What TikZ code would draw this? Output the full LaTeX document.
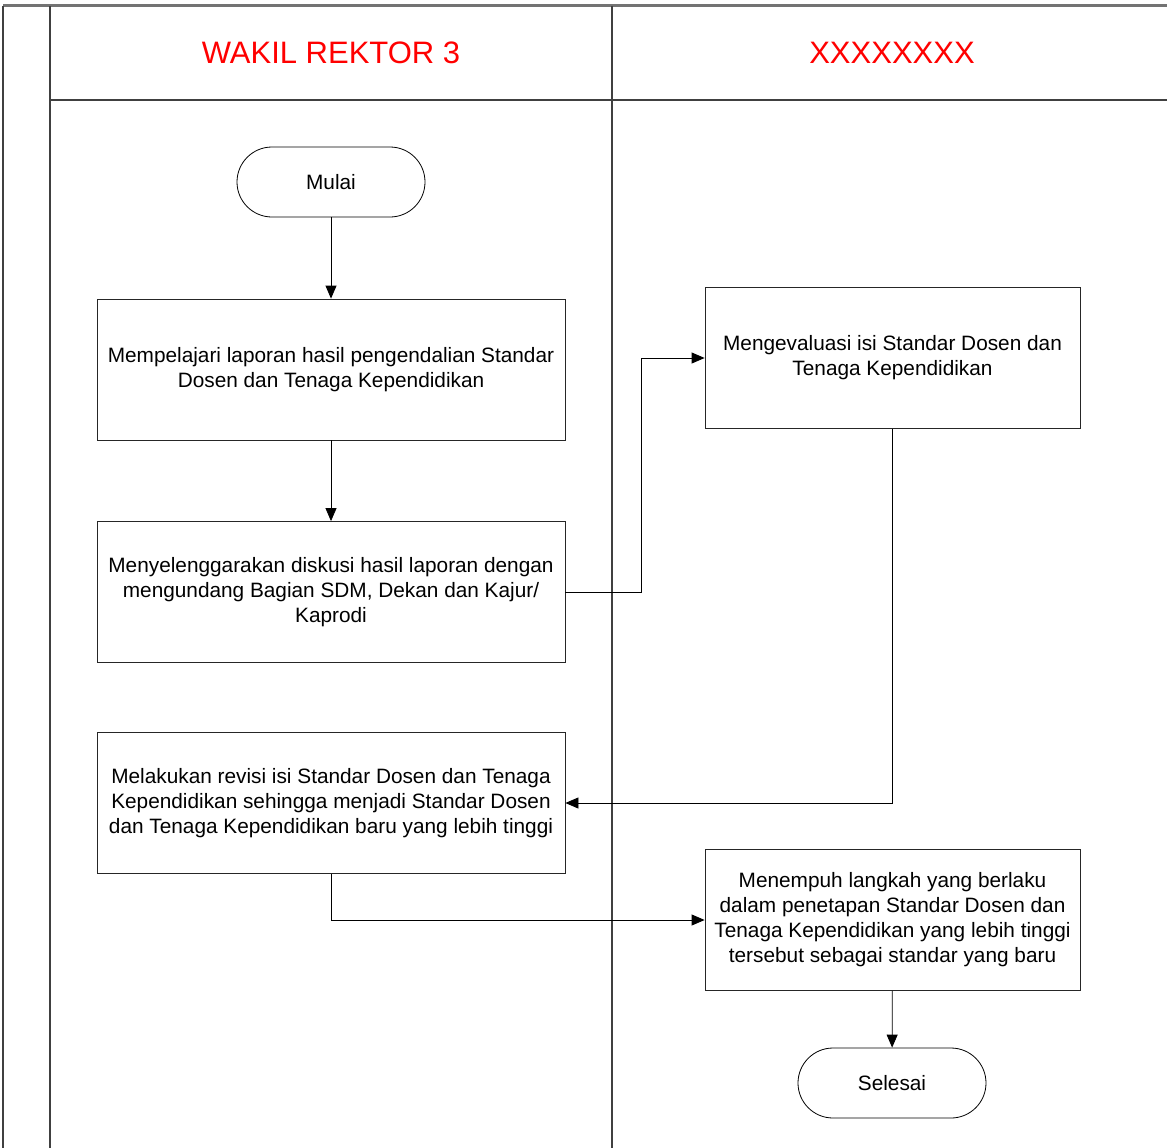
\documentclass[tikz,border=0pt]{standalone}
\usepackage{fontspec}
\setmainfont{Liberation Sans}
\usetikzlibrary{arrows.meta}
\begin{document}
\begin{tikzpicture}[x=1pt,y=-1pt,
  lane/.style={draw=black!75,line width=1.6pt},
  proc/.style={draw=black!85,line width=0.8pt,rectangle,minimum width=468pt,minimum height=141pt,align=center,font=\fontsize{20.8}{25}\selectfont,inner sep=0pt},
  procr/.style={proc,minimum width=375pt},
  term/.style={draw=black,line width=0.8pt,rectangle,rounded corners=35pt,minimum width=188pt,minimum height=70pt,font=\fontsize{20.8}{25}\selectfont},
  head/.style={font=\fontsize{31}{36}\selectfont,text=red},
  flow/.style={line width=0.8pt,-{Triangle[length=13pt,width=11pt]}}]
\useasboundingbox (0,0) rectangle (1167,1148);
% lanes
\draw[draw=black!55,line width=3pt] (3,6) -- (1167,6);
\draw[lane] (3,6) -- (3,1148);
\draw[lane] (50,6) -- (50,1148);
\draw[lane] (612,6) -- (612,1148);
\draw[lane,line width=1.3pt] (50,100) -- (1167,100);
\node[head] (h1) at (331,53) {WAKIL REKTOR 3};
\node[head] (h2) at (892,53) {XXXXXXXX};
% nodes
\node[term] (start) at (331,182) {Mulai};
\node[proc] (b1) at (331,369.5) {Mempelajari laporan hasil pengendalian Standar\\Dosen dan Tenaga Kependidikan};
\node[proc] (b2) at (331,592) {Menyelenggarakan diskusi hasil laporan dengan\\mengundang Bagian SDM, Dekan dan Kajur/\\Kaprodi};
\node[proc] (b3) at (331,803) {Melakukan revisi isi Standar Dosen dan Tenaga\\Kependidikan sehingga menjadi Standar Dosen\\dan Tenaga Kependidikan baru yang lebih tinggi};
\node[procr] (r1) at (892.5,358) {Mengevaluasi isi Standar Dosen dan\\Tenaga Kependidikan};
\node[procr] (r2) at (892.5,920) {Menempuh langkah yang berlaku\\dalam penetapan Standar Dosen dan\\Tenaga Kependidikan yang lebih tinggi\\tersebut sebagai standar yang baru};
\node[term] (end) at (892,1083) {Selesai};
\coordinate (c1) at (641,592);
\coordinate (c2) at (641,358);
% connectors
\draw[flow] (start) -- (b1);
\draw[flow] (b1) -- (b2);
\draw[flow] (b2.east) -- (c1) -- (c2) -- (r1.west);
\draw[flow] (r1.south) |- (b3.east);
\draw[flow] (b3.south) |- (r2.west);
\draw[flow] (r2) -- (end);
\end{tikzpicture}
\end{document}
